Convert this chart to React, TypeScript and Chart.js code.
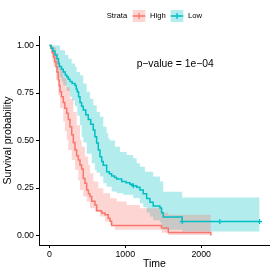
import React, { useEffect, useRef } from "react";
import { Chart, registerables } from "chart.js";

Chart.register(...registerables);

const FONT = '"Liberation Sans", Arial, Helvetica, sans-serif';
const RED = "#F8766D";
const TEAL = "#00BFC4";
const RED_BAND = "rgba(248,118,109,0.3)";
const TEAL_BAND = "rgba(0,191,196,0.3)";

// ---- data ----
const strata = ["High", "Low"];
const xTicks = [0, 1000, 2000];
const yTicks = [0, 0.25, 0.5, 0.75, 1];
const pValueText = "p\u2212value = 1e\u221204";
const PVAL_X = 1150;
const PVAL_Y = 0.9;

const lowTimes = [0, 25, 50, 75, 100, 120, 132, 160, 184, 210, 229, 250, 272, 300, 338, 355, 368, 385, 404, 425, 447, 480, 513, 545, 579, 600, 623, 645, 667, 690, 710, 755, 790, 821, 860, 887, 953, 1010, 1062, 1105, 1150, 1193, 1237, 1282, 1325, 1368, 1457, 1479, 1500, 1750, 2770];
const lowSurv = [1, 0.985, 0.97, 0.95, 0.93, 0.905, 0.89, 0.875, 0.86, 0.845, 0.835, 0.822, 0.81, 0.8, 0.79, 0.77, 0.756, 0.73, 0.7, 0.68, 0.66, 0.635, 0.61, 0.585, 0.555, 0.52, 0.487, 0.45, 0.415, 0.39, 0.37, 0.336, 0.325, 0.313, 0.305, 0.298, 0.284, 0.278, 0.27, 0.262, 0.254, 0.24, 0.22, 0.195, 0.175, 0.155, 0.145, 0.12, 0.097, 0.0735, 0.0735];
const lowUpperTimes = [0, 132, 141, 207, 250, 295, 338, 360, 404, 447, 492, 535, 579, 624, 667, 711, 755, 776, 799, 864, 930, 1018, 1105, 1150, 1193, 1259, 1368, 1457, 1500, 1750, 2770];
const lowUpper = [1, 1, 0.975, 0.95, 0.93, 0.905, 0.888, 0.86, 0.844, 0.8, 0.756, 0.72, 0.685, 0.65, 0.625, 0.572, 0.538, 0.51, 0.5, 0.467, 0.44, 0.424, 0.406, 0.38, 0.362, 0.336, 0.31, 0.284, 0.23, 0.2, 0.2];
const lowLowerTimes = [0, 25, 50, 75, 100, 132, 160, 184, 229, 272, 300, 338, 368, 404, 426, 447, 492, 558, 600, 623, 667, 711, 755, 821, 887, 974, 1105, 1193, 1237, 1282, 1325, 1368, 1457, 1479, 1500, 1750, 2770];
const lowLower = [1, 0.96, 0.93, 0.9, 0.87, 0.83, 0.81, 0.79, 0.76, 0.73, 0.71, 0.68, 0.63, 0.58, 0.52, 0.49, 0.43, 0.38, 0.345, 0.33, 0.31, 0.275, 0.257, 0.231, 0.223, 0.214, 0.196, 0.17, 0.15, 0.12, 0.1, 0.08, 0.07, 0.05, 0.03, 0.021, 0.021];
const lowCensorTimes = [1105, 1750, 2246, 2770];

const highTimes = [0, 20, 40, 53, 70, 88, 100, 118, 130, 141, 160, 184, 205, 229, 250, 272, 295, 316, 338, 360, 382, 404, 425, 447, 470, 492, 515, 535, 558, 601, 624, 689, 733, 776, 800, 821, 1479, 1567, 2128];
const highSurv = [1, 0.985, 0.96, 0.94, 0.915, 0.888, 0.86, 0.818, 0.79, 0.756, 0.73, 0.7, 0.67, 0.643, 0.61, 0.572, 0.53, 0.49, 0.45, 0.42, 0.397, 0.371, 0.35, 0.3, 0.275, 0.24, 0.22, 0.205, 0.18, 0.16, 0.13, 0.118, 0.109, 0.091, 0.075, 0.053, 0.039, 0.016, 0];
const highUpperTimes = [0, 40, 53, 88, 118, 141, 184, 229, 272, 316, 360, 404, 426, 470, 513, 535, 579, 645, 711, 799, 887, 1018, 1193, 1479, 1567, 2128];
const highUpper = [1, 1, 0.99, 0.96, 0.92, 0.88, 0.83, 0.78, 0.72, 0.65, 0.58, 0.503, 0.467, 0.415, 0.371, 0.328, 0.284, 0.249, 0.223, 0.196, 0.179, 0.161, 0.144, 0.12, 0.109, 0.109];
const highLowerTimes = [0, 20, 40, 53, 88, 118, 141, 184, 205, 229, 250, 295, 338, 382, 404, 447, 492, 535, 601, 667, 733, 799, 864, 1479, 1567, 2128];
const highLower = [1, 0.96, 0.92, 0.89, 0.82, 0.74, 0.67, 0.6, 0.55, 0.503, 0.45, 0.397, 0.345, 0.29, 0.24, 0.205, 0.179, 0.144, 0.126, 0.1, 0.0735, 0.056, 0.03, 0.015, 0.003, 0.003];

function pts(t: number[], v: number[]) {
  return t.map((x, i) => ({ x, y: v[i] }));
}
function survAt(t: number[], v: number[], time: number) {
  let s = v[0];
  for (let i = 0; i < t.length; i++) if (t[i] <= time) s = v[i];
  return s;
}

const annotPlugin = {
  id: "annot",
  afterDraw(chart: any) {
    const ctx = chart.ctx as CanvasRenderingContext2D;
    const xs = chart.scales.x;
    const ys = chart.scales.y;
    ctx.save();
    ctx.fillStyle = "#000";
    ctx.textBaseline = "middle";
    ctx.textAlign = "left";
    ctx.font = `10.3px ${FONT}`;
    ctx.fillText(pValueText, xs.getPixelForValue(PVAL_X), ys.getPixelForValue(PVAL_Y));

    ctx.font = `7.7px ${FONT}`;
    ctx.fillText("Strata", 106.7, 16.3);
    const keys = [
      { label: strata[0], color: RED, band: RED_BAND, x: 132.7 },
      { label: strata[1], color: TEAL, band: TEAL_BAND, x: 170.7 },
    ];
    for (const k of keys) {
      ctx.fillStyle = k.band;
      ctx.fillRect(k.x, 10, 12.6, 12);
      ctx.strokeStyle = k.color;
      ctx.lineWidth = 1.3;
      ctx.beginPath();
      ctx.moveTo(k.x, 16);
      ctx.lineTo(k.x + 12.6, 16);
      ctx.moveTo(k.x + 6.3, 13);
      ctx.lineTo(k.x + 6.3, 19);
      ctx.stroke();
      ctx.fillStyle = "#000";
      ctx.fillText(k.label, k.x + 17.3, 16.3);
    }
    ctx.restore();
  },
};

export default function App() {
  const ref = useRef<HTMLCanvasElement>(null);
  useEffect(() => {
    const lineBase = { pointRadius: 0, pointHoverRadius: 0, stepped: true as const, fill: false as const };
    const bandBase = { pointRadius: 0, pointHoverRadius: 0, stepped: true as const, borderWidth: 0, borderColor: "rgba(0,0,0,0)" };
    const chart = new Chart(ref.current as HTMLCanvasElement, {
      type: "line",
      data: {
        datasets: [
          {
            label: "Low censor",
            data: lowCensorTimes.map((t) => ({ x: t, y: survAt(lowTimes, lowSurv, t) })),
            showLine: false,
            pointStyle: "cross",
            pointRadius: 2.5,
            pointBorderColor: TEAL,
            pointBackgroundColor: TEAL,
            pointBorderWidth: 1.2,
            fill: false,
          } as any,
          { label: "Low", data: pts(lowTimes, lowSurv), borderColor: TEAL, borderWidth: 1.5, ...lineBase },
          { label: "High", data: pts(highTimes, highSurv), borderColor: RED, borderWidth: 1.5, ...lineBase },
          { label: "High upper", data: pts(highUpperTimes, highUpper), backgroundColor: RED_BAND, fill: "+1", ...bandBase },
          { label: "High lower", data: pts(highLowerTimes, highLower), backgroundColor: RED_BAND, fill: false, ...bandBase },
          { label: "Low upper", data: pts(lowUpperTimes, lowUpper), backgroundColor: TEAL_BAND, fill: "+1", ...bandBase },
          { label: "Low lower", data: pts(lowLowerTimes, lowLower), backgroundColor: TEAL_BAND, fill: false, ...bandBase },
        ] as any,
      },
      options: {
        animation: false,
        responsive: false,
        devicePixelRatio: 1,
        events: [],
        layout: { padding: { top: 36, right: 5, bottom: 0, left: 0 } },
        plugins: {
          legend: { display: false },
          tooltip: { enabled: false },
          filler: { propagate: false, drawTime: "beforeDatasetsDraw" } as any,
        },
        scales: {
          x: {
            type: "linear",
            min: -136,
            max: 2904,
            afterBuildTicks: (s: any) => {
              s.ticks = xTicks.map((v) => ({ value: v }));
            },
            afterFit: (s: any) => {
              s.height = 30;
            },
            ticks: {
              font: { family: FONT, size: 8.8 },
              color: "#000",
              padding: 1,
              maxRotation: 0,
              autoSkip: false,
              callback: (v: any) => String(v),
            },
            grid: { drawOnChartArea: false, drawTicks: true, tickLength: 3, color: "#000", lineWidth: 1 },
            border: { display: true, color: "#000", width: 1 },
            title: {
              display: true,
              text: "Time",
              font: { family: FONT, size: 10.5 },
              color: "#000",
              padding: { top: 0, bottom: 5 },
            },
          },
          y: {
            type: "linear",
            min: -0.05,
            max: 1.05,
            afterBuildTicks: (s: any) => {
              s.ticks = yTicks.map((v) => ({ value: v }));
            },
            afterFit: (s: any) => {
              s.width = 39;
            },
            ticks: {
              font: { family: FONT, size: 8.8 },
              color: "#000",
              padding: 2,
              autoSkip: false,
              callback: (v: any) => Number(v).toFixed(2),
            },
            grid: { drawOnChartArea: false, drawTicks: true, tickLength: 3, color: "#000", lineWidth: 1 },
            border: { display: true, color: "#000", width: 1 },
            title: {
              display: true,
              text: "Survival probability",
              font: { family: FONT, size: 10.5 },
              color: "#000",
              padding: { top: 2, bottom: 0 },
            },
          },
        },
      },
      plugins: [annotPlugin],
    });
    return () => chart.destroy();
  }, []);
  return (
    <div style={{ position: "fixed", left: 0, top: 0, width: 275, height: 275, background: "#fff" }}>
      <canvas ref={ref} width={275} height={275} style={{ display: "block", width: 275, height: 275 }} />
    </div>
  );
}
